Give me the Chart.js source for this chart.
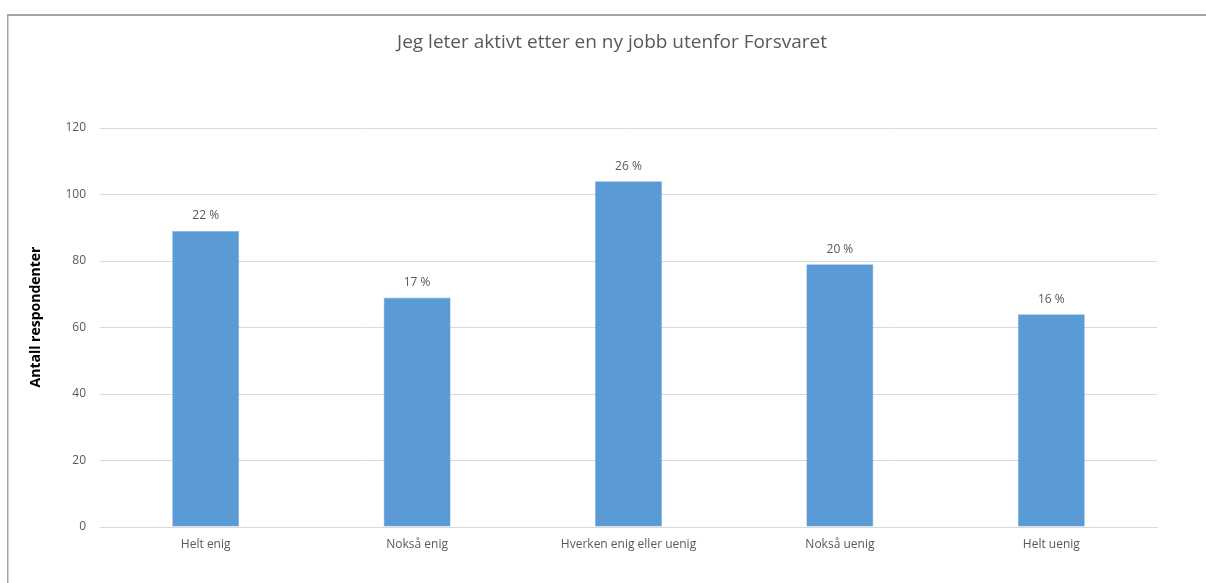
<!DOCTYPE html>
<html>
<head>
<meta charset="utf-8">
<script src="https://cdn.jsdelivr.net/npm/chart.js@4/dist/chart.umd.min.js"></script>
<style>
  html, body { margin: 0; padding: 0; background: #fff; }
  #wrap { width: 1206px; height: 583px; }
</style>
</head>
<body>
<div id="wrap"><canvas id="c" width="1206" height="583"></canvas></div>
<script>
// Survey answers: number of respondents per category
const categories = ['Helt enig', 'Nokså enig', 'Hverken enig eller uenig', 'Nokså uenig', 'Helt uenig'];
const counts = [89, 69, 104, 79, 64];
const yTicks = [0, 20, 40, 60, 80, 100, 120];

const chartTitle = 'Jeg leter aktivt etter en ny jobb utenfor Forsvaret';
const yTitle = 'Antall respondenter';

const total = counts.reduce((a, b) => a + b, 0);
const TEXT = '#595959';
const FONT = '"Open Sans", "Noto Sans", sans-serif';

// Frame, chart heading and vertical axis heading
const framePlugin = {
  id: 'frame',
  beforeDraw(chart) {
    const ctx = chart.ctx;
    ctx.save();
    ctx.fillStyle = '#fff';
    ctx.fillRect(0, 0, chart.width, chart.height);
    ctx.fillStyle = '#a6a6a6';
    ctx.fillRect(7, 14, chart.width, 2);
    ctx.fillRect(7, 14, 1.5, chart.height);
    ctx.restore();
  },
  afterDraw(chart) {
    const ctx = chart.ctx;
    ctx.save();
    ctx.textAlign = 'center';
    ctx.textBaseline = 'middle';
    ctx.fillStyle = TEXT;
    ctx.font = '19px ' + FONT;
    ctx.fillText(chartTitle, 612, 43);
    ctx.translate(36, 317);
    ctx.rotate(-Math.PI / 2);
    ctx.fillStyle = '#000';
    ctx.font = 'bold 14px ' + FONT;
    ctx.fillText(yTitle, 0, 0);
    ctx.restore();
  }
};

// Share of all respondents written above each bar
const shareLabels = {
  id: 'shareLabels',
  afterDatasetsDraw(chart) {
    const ctx = chart.ctx;
    const meta = chart.getDatasetMeta(0);
    ctx.save();
    ctx.font = '12px ' + FONT;
    ctx.fillStyle = TEXT;
    ctx.textAlign = 'center';
    ctx.textBaseline = 'middle';
    meta.data.forEach((bar, i) => {
      const pct = Math.round(counts[i] / total * 100);
      ctx.fillText(pct + ' %', bar.x, bar.y - 15);
    });
    ctx.restore();
  }
};

new Chart(document.getElementById('c'), {
  type: 'bar',
  data: {
    labels: categories,
    datasets: [{
      data: counts,
      backgroundColor: '#5b9bd5',
      borderColor: '#7fb0e0',
      borderWidth: 0.6,
      barPercentage: 0.317,
      categoryPercentage: 1
    }]
  },
  options: {
    responsive: false,
    animation: false,
    devicePixelRatio: 1,
    layout: { padding: { left: 8, right: 49, top: 128, bottom: 0 } },
    plugins: {
      legend: { display: false },
      tooltip: { enabled: false },
      title: { display: false }
    },
    scales: {
      x: {
        grid: { display: false, drawTicks: false },
        border: { display: true, color: '#d9d9d9', width: 1 },
        ticks: { color: TEXT, font: { family: FONT, size: 12 }, padding: 10, maxRotation: 0 },
        afterFit(scale) { scale.height = 56; }
      },
      y: {
        min: 0,
        max: 120,
        afterBuildTicks(scale) { scale.ticks = yTicks.map(v => ({ value: v })); },
        grid: { color: '#d9d9d9', lineWidth: 1, drawTicks: false },
        border: { display: false },
        ticks: { color: TEXT, font: { family: FONT, size: 12 }, padding: 14 },
        title: { display: false },
        afterFit(scale) { scale.width = 92; }
      }
    }
  },
  plugins: [framePlugin, shareLabels]
});
</script>
</body>
</html>
